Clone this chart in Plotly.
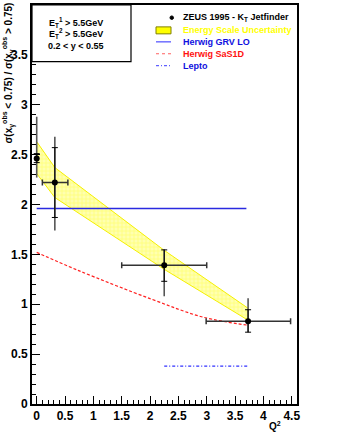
import plotly.graph_objects as go

# ---------------- data ----------------
q2 = [0.0, 0.32, 2.25, 3.73]
ratio = [2.46, 2.22, 1.39, 0.83]
stat_up = [0.05, 0.35, 0.155, 0.115]
stat_dn = [0.04, 0.35, 0.16, 0.11]
tot_up = [0.42, 0.46, 0.16, 0.23]
tot_dn = [0.19, 0.48, 0.31, 0.11]
xerr_lo = [0.0, 0.22, 0.75, 0.74]
xerr_hi = [0.0, 0.23, 0.75, 0.75]

band_top = [2.63, 2.37, 1.54, 0.96]
band_bot = [2.31, 2.07, 1.35, 0.84]

grv_x = [0.0, 0.32, 2.25, 3.70]
grv_y = [1.96, 1.96, 1.96, 1.96]

sas_x = [0.0, 0.73, 2.03, 2.94, 3.73]
sas_y = [1.52, 1.34, 1.05, 0.87, 0.79]

lepto_x = [2.25, 3.73]
lepto_y = [0.38, 0.38]

xticks = [0, 0.5, 1, 1.5, 2, 2.5, 3, 3.5, 4, 4.5]
yticks = [0, 0.5, 1, 1.5, 2, 2.5, 3, 3.5, 4]

FONT = "Liberation Sans"

fig = go.Figure()

# energy-scale band
fig.add_trace(go.Scatter(
    x=q2 + q2[::-1], y=band_top + band_bot[::-1],
    fill="toself", mode="lines",
    line=dict(color="#f5f000", width=1),
    fillcolor="rgba(255,255,120,0.6)",
    fillpattern=dict(shape="+", fgcolor="#ffff40", bgcolor="#ffffb0", size=4, solidity=0.35),
    hoverinfo="skip", showlegend=False))

fig.add_trace(go.Scatter(x=grv_x, y=grv_y, mode="lines",
                         line=dict(color="#2a2ae0", width=1.3), showlegend=False))
fig.add_trace(go.Scatter(x=sas_x, y=sas_y, mode="lines", line_shape="spline",
                         line=dict(color="#ff2020", width=1.2, dash="3px,2px"), showlegend=False))
fig.add_trace(go.Scatter(x=lepto_x, y=lepto_y, mode="lines",
                         line=dict(color="#3030ff", width=1.2, dash="3px,2px,1px,2px"), showlegend=False))

# total errors
fig.add_trace(go.Scatter(
    x=q2, y=ratio, mode="markers", marker=dict(size=1, color="rgba(0,0,0,0)"),
    error_y=dict(type="data", symmetric=False, array=tot_up, arrayminus=tot_dn,
                 color="#555555", thickness=1.6, width=0),
    showlegend=False))
# stat errors + points
fig.add_trace(go.Scatter(
    x=q2, y=ratio, mode="markers", marker=dict(size=6, color="black"),
    error_y=dict(type="data", symmetric=False, array=stat_up, arrayminus=stat_dn,
                 color="black", thickness=1, width=3),
    error_x=dict(type="data", symmetric=False, array=xerr_hi, arrayminus=xerr_lo,
                 color="#333333", thickness=1.5, width=3),
    showlegend=False))

L, R, T, B = 32, 40, 3, 32
W, H = 337, 436
pw, ph = W - L - R, H - T - B


def px(x):
    return (x - L) / pw


def py(y):
    return (H - B - y) / ph


shapes = []
annotations = []

# top-left cut box
shapes.append(dict(type="rect", xref="paper", yref="paper",
                   x0=0, x1=px(131), y0=py(60), y1=1,
                   line=dict(color="black", width=1.2), fillcolor="white", layer="above"))
for txt, yy in [("E<sub>T</sub><sup>1</sup> > 5.5GeV", 20.5),
                ("E<sub>T</sub><sup>2</sup> > 5.5GeV", 31.5),
                ("0.2 < y < 0.55", 44)]:
    annotations.append(dict(x=px(76), y=py(yy), xref="paper", yref="paper",
                            text=txt, showarrow=False, xanchor="center", yanchor="middle",
                            font=dict(family=FONT, size=9, color="black", weight="bold")))

# legend
lx0, lx1, tx = 156, 171, 181
shapes.append(dict(type="circle", xref="paper", yref="paper",
                   x0=px(170), x1=px(173.5), y0=py(17.5), y1=py(14), fillcolor="black",
                   line=dict(color="black", width=1)))
shapes.append(dict(type="rect", xref="paper", yref="paper",
                   x0=px(lx0), x1=px(lx1), y0=py(32), y1=py(25),
                   fillcolor="#ffff00", line=dict(color="#808000", width=1)))
shapes.append(dict(type="line", xref="paper", yref="paper",
                   x0=px(lx0), x1=px(lx1), y0=py(40), y1=py(40),
                   line=dict(color="#7070ff", width=1.5)))
shapes.append(dict(type="line", xref="paper", yref="paper",
                   x0=px(lx0), x1=px(lx1), y0=py(52), y1=py(52),
                   line=dict(color="#ff6060", width=1.2, dash="dot")))
shapes.append(dict(type="line", xref="paper", yref="paper",
                   x0=px(lx0), x1=px(lx1), y0=py(64), y1=py(64),
                   line=dict(color="#6060ff", width=1.2, dash="3px,2px,1px,2px")))
for txt, yy, col in [("ZEUS 1995 - K<sub>T</sub> Jetfinder", 16, "black"),
                     ("Energy Scale Uncertainty", 28.5, "#ffff00"),
                     ("Herwig GRV LO", 40.5, "#1010e0"),
                     ("Herwig SaS1D", 52.5, "#ff1010"),
                     ("Lepto", 64.5, "#1010e0")]:
    annotations.append(dict(x=px(tx), y=py(yy), xref="paper", yref="paper",
                            text=txt, showarrow=False, xanchor="left", yanchor="middle",
                            font=dict(family=FONT, size=9, color=col, weight="bold")))

# axis titles
annotations.append(dict(x=px(8), y=py(-1), xref="paper", yref="paper",
                        text="σ(x<sub>γ</sub><sup>obs</sup> < 0.75) / σ(x<sub>γ</sub><sup>obs</sup> > 0.75)",
                        textangle=-90, showarrow=False, xanchor="center", yanchor="top",
                        font=dict(family=FONT, size=10, color="black", weight="bold")))
annotations.append(dict(x=px(275), y=py(426), xref="paper", yref="paper",
                        text="Q<sup>2</sup>", showarrow=False, xanchor="center", yanchor="middle",
                        font=dict(family=FONT, size=10, color="black", weight="bold")))

axis_common = dict(showline=True, linecolor="black", linewidth=1.6, mirror=True,
                   ticks="inside", ticklen=8, tickwidth=1, tickcolor="black",
                   showgrid=False, zeroline=False,
                   tickfont=dict(family=FONT, size=12, color="black", weight="bold"),
                   minor=dict(ticks="inside", ticklen=4, dtick=0.1, tickcolor="black", showgrid=False))

fig.update_layout(
    width=W, height=H,
    margin=dict(l=L, r=R, t=T, b=B),
    paper_bgcolor="white", plot_bgcolor="white",
    showlegend=False,
    xaxis=dict(range=[-0.083, 4.593], tickvals=xticks,
               ticktext=[f"{v:g}" for v in xticks], **axis_common),
    yaxis=dict(range=[0, 4], tickvals=yticks,
               ticktext=[f"{v:g}" for v in yticks], **axis_common),
    shapes=shapes,
    annotations=annotations,
)

fig.write_html("out.html", config={"displayModeBar": False},
               post_script="document.body.style.margin='0';document.body.style.overflow='hidden';")
